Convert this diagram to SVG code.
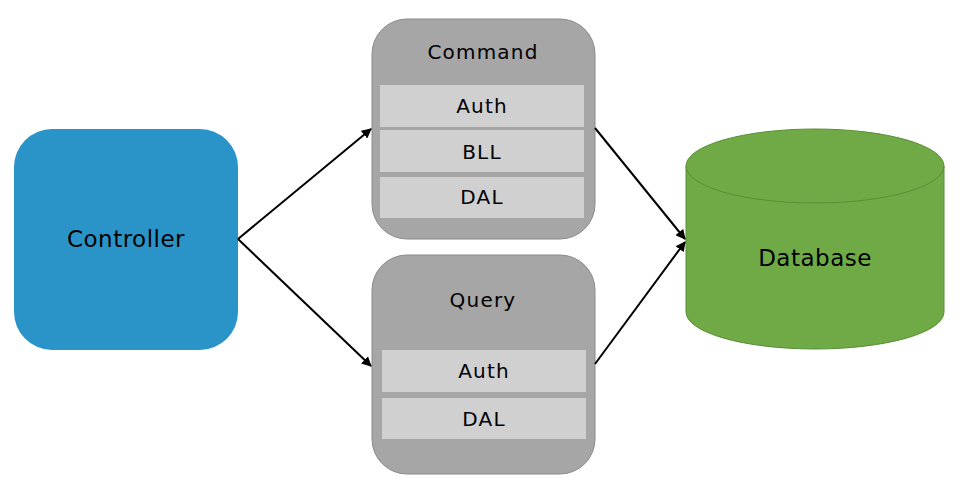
<svg xmlns="http://www.w3.org/2000/svg" width="962" height="490" viewBox="0 0 962 490">
<style>
text{font-family:"DejaVu Sans","Noto Sans",sans-serif;fill:#000;text-anchor:middle;dominant-baseline:central}
.big{font-size:23px;letter-spacing:0.5px}
.mid{font-size:20px;letter-spacing:1.2px}
.outer{fill:#a6a6a6;stroke:#8a8a8a;stroke-width:1}
.row{fill:#d0d0d0}
.conn{stroke:#000;stroke-width:2;fill:none;marker-end:url(#ah)}
</style>
<defs>
<marker id="ah" viewBox="0 0 10 10" refX="9" refY="5" markerWidth="5" markerHeight="5" orient="auto" markerUnits="strokeWidth">
<path d="M0,0 L10,5 L0,10 z" fill="#000"/>
</marker>
</defs>
<rect width="962" height="490" fill="#fff"/>
<g id="controller">
<rect x="14" y="129" width="224" height="221" rx="38" fill="#2a94c9"/>
<text class="big" x="126" y="239">Controller</text>
</g>
<g id="command">
<rect class="outer" x="372" y="19" width="223" height="220" rx="35"/>
<text class="mid" x="483" y="52">Command</text>
<rect class="row" x="380" y="85" width="204" height="42"/>
<text class="mid" x="482" y="106">Auth</text>
<rect class="row" x="380" y="130" width="204" height="42"/>
<text class="mid" x="482" y="152">BLL</text>
<rect class="row" x="380" y="177" width="204" height="41"/>
<text class="mid" x="482" y="197">DAL</text>
</g>
<g id="query">
<rect class="outer" x="372" y="255" width="223" height="219" rx="35"/>
<text class="mid" x="483" y="300">Query</text>
<rect class="row" x="382" y="350" width="204" height="42"/>
<text class="mid" x="484" y="371">Auth</text>
<rect class="row" x="382" y="398" width="204" height="41"/>
<text class="mid" x="484" y="419">DAL</text>
</g>
<g id="database">
<path d="M686,166 L686,312 A129,37 0 0 0 944,312 L944,166 A129,37 0 0 0 686,166 z" fill="#6faa46" stroke="#5a8e37" stroke-width="1"/>
<path d="M686,166 A129,37 0 0 0 944,166" fill="none" stroke="#5a8e37" stroke-width="1"/>
<text class="big" x="815" y="258">Database</text>
</g>
<g id="connectors">
<line class="conn" x1="238" y1="239" x2="371" y2="129"/>
<line class="conn" x1="238" y1="239" x2="371" y2="366"/>
<line class="conn" x1="595" y1="128" x2="685" y2="239"/>
<line class="conn" x1="595" y1="364" x2="685" y2="242"/>
</g>
</svg>
